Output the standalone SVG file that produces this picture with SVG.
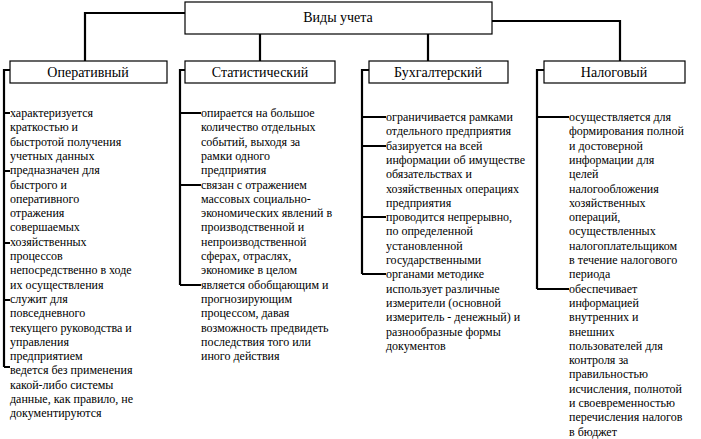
<svg xmlns="http://www.w3.org/2000/svg" width="701" height="439" viewBox="0 0 701 439">
<style>
.b{fill:#fff;stroke:#000;stroke-width:1.2}
.l{fill:none;stroke:#000;stroke-width:2.2}
.t{font-family:"Liberation Serif",serif;font-size:12px;fill:#000}
.h{font-family:"Liberation Serif",serif;font-size:14px;fill:#000;text-anchor:middle}
</style>
<rect width="701" height="439" fill="#fff"/>
<g id="connectors">
<path class="l" d="M185 13H85V61M260 34V61M428 34V61M492 21H620V61"/>
<path class="l" d="M10 70H4V367M4 113H10M4 171H10M4 243H10M4 300H10M4 367H10"/>
<path class="l" d="M185 70H180V285M180 113H201M180 185H201M180 285H201"/>
<path class="l" d="M369 70H362V274M362 117H386M362 146H386M362 217H386M362 274H386"/>
<path class="l" d="M544 70H537V289M537 117H569M537 289H569"/>
</g>
<g id="root"><rect class="b" x="185" y="2" width="307" height="32"/><text class="h" x="338" y="22">Виды учета</text></g>
<g id="n1"><rect class="b" x="10" y="61" width="157" height="22"/><text class="h" x="88" y="77">Оперативный</text></g>
<g id="n2"><rect class="b" x="185" y="61" width="150" height="22"/><text class="h" x="260" y="77">Статистический</text></g>
<g id="n3"><rect class="b" x="369" y="61" width="139" height="22"/><text class="h" x="438" y="77">Бухгалтерский</text></g>
<g id="n4"><rect class="b" x="544" y="61" width="141" height="22"/><text class="h" x="614" y="77">Налоговый</text></g>
<g id="d1"><text class="t" x="10" y="117"><tspan x="10">характеризуется</tspan><tspan x="10" dy="14.3">краткостью и</tspan><tspan x="10" dy="14.3">быстротой получения</tspan><tspan x="10" dy="14.3">учетных данных</tspan><tspan x="10" dy="14.3">предназначен для</tspan><tspan x="10" dy="14.3">быстрого и</tspan><tspan x="10" dy="14.3">оперативного</tspan><tspan x="10" dy="14.3">отражения</tspan><tspan x="10" dy="14.3">совершаемых</tspan><tspan x="10" dy="14.3">хозяйственных</tspan><tspan x="10" dy="14.3">процессов</tspan><tspan x="10" dy="14.3">непосредственно в ходе</tspan><tspan x="10" dy="14.3">их осуществления</tspan><tspan x="10" dy="14.3">служит для</tspan><tspan x="10" dy="14.3">повседневного</tspan><tspan x="10" dy="14.3">текущего руководства и</tspan><tspan x="10" dy="14.3">управления</tspan><tspan x="10" dy="14.3">предприятием</tspan><tspan x="10" dy="14.3">ведется без применения</tspan><tspan x="10" dy="14.3">какой-либо системы</tspan><tspan x="10" dy="14.3">данные, как правило, не</tspan><tspan x="10" dy="14.3">документируются</tspan></text></g>
<g id="d2"><text class="t" x="201" y="117"><tspan x="201">опирается на большое</tspan><tspan x="201" dy="14.3">количество отдельных</tspan><tspan x="201" dy="14.3">событий, выходя за</tspan><tspan x="201" dy="14.3">рамки одного</tspan><tspan x="201" dy="14.3">предприятия</tspan><tspan x="201" dy="14.3">связан с отражением</tspan><tspan x="201" dy="14.3">массовых социально-</tspan><tspan x="201" dy="14.3">экономических явлений в</tspan><tspan x="201" dy="14.3">производственной и</tspan><tspan x="201" dy="14.3">непроизводственной</tspan><tspan x="201" dy="14.3">сферах, отраслях,</tspan><tspan x="201" dy="14.3">экономике в целом</tspan><tspan x="201" dy="14.3">является обобщающим и</tspan><tspan x="201" dy="14.3">прогнозирующим</tspan><tspan x="201" dy="14.3">процессом, давая</tspan><tspan x="201" dy="14.3">возможность предвидеть</tspan><tspan x="201" dy="14.3">последствия того или</tspan><tspan x="201" dy="14.3">иного действия</tspan></text></g>
<g id="d3"><text class="t" x="386" y="121"><tspan x="386">ограничивается рамками</tspan><tspan x="386" dy="14.3">отдельного предприятия</tspan><tspan x="386" dy="14.3">базируется на всей</tspan><tspan x="386" dy="14.3">информации об имуществе</tspan><tspan x="386" dy="14.3">обязательствах и</tspan><tspan x="386" dy="14.3">хозяйственных операциях</tspan><tspan x="386" dy="14.3">предприятия</tspan><tspan x="386" dy="14.3">проводится непрерывно,</tspan><tspan x="386" dy="14.3">по определенной</tspan><tspan x="386" dy="14.3">установленной</tspan><tspan x="386" dy="14.3">государственными</tspan><tspan x="386" dy="14.3">органами методике</tspan><tspan x="386" dy="14.3">использует различные</tspan><tspan x="386" dy="14.3">измерители (основной</tspan><tspan x="386" dy="14.3">измеритель - денежный) и</tspan><tspan x="386" dy="14.3">разнообразные формы</tspan><tspan x="386" dy="14.3">документов</tspan></text></g>
<g id="d4"><text class="t" x="569" y="121"><tspan x="569">осуществляется для</tspan><tspan x="569" dy="14.3">формирования полной</tspan><tspan x="569" dy="14.3">и достоверной</tspan><tspan x="569" dy="14.3">информации для</tspan><tspan x="569" dy="14.3">целей</tspan><tspan x="569" dy="14.3">налогообложения</tspan><tspan x="569" dy="14.3">хозяйственных</tspan><tspan x="569" dy="14.3">операций,</tspan><tspan x="569" dy="14.3">осуществленных</tspan><tspan x="569" dy="14.3">налогоплательщиком</tspan><tspan x="569" dy="14.3">в течение налогового</tspan><tspan x="569" dy="14.3">периода</tspan><tspan x="569" dy="14.3">обеспечивает</tspan><tspan x="569" dy="14.3">информацией</tspan><tspan x="569" dy="14.3">внутренних и</tspan><tspan x="569" dy="14.3">внешних</tspan><tspan x="569" dy="14.3">пользователей для</tspan><tspan x="569" dy="14.3">контроля за</tspan><tspan x="569" dy="14.3">правильностью</tspan><tspan x="569" dy="14.3">исчисления, полнотой</tspan><tspan x="569" dy="14.3">и своевременностью</tspan><tspan x="569" dy="14.3">перечисления налогов</tspan><tspan x="569" dy="14.3">в бюджет</tspan></text></g>
</svg>
